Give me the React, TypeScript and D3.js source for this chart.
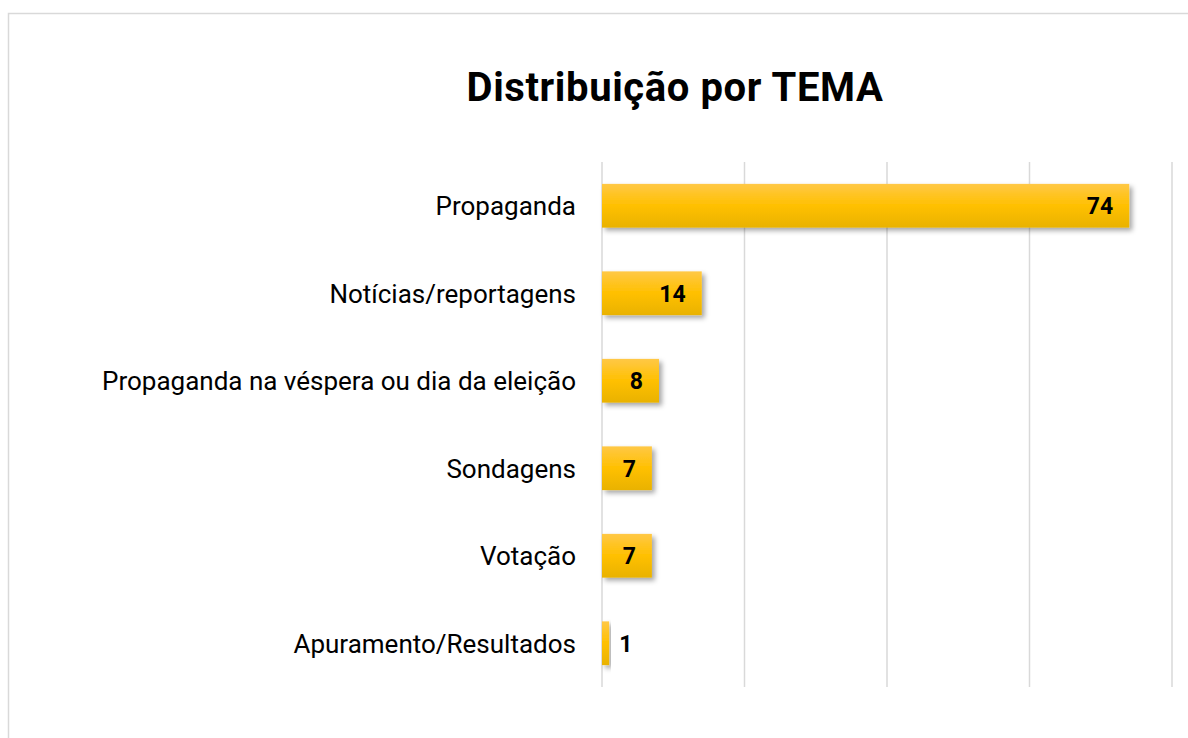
import React from 'react';
import * as d3 from 'd3';

const categories = [
  'Propaganda',
  'Notícias/reportagens',
  'Propaganda na véspera ou dia da eleição',
  'Sondagens',
  'Votação',
  'Apuramento/Resultados',
];
const values = [74, 14, 8, 7, 7, 1];
const gridTicks = [0, 20, 40, 60, 80];
const title = 'Distribuição por TEMA';

const W = 1188;
const H = 738;
const FONT = 'Roboto, "Liberation Sans", sans-serif';

export default function App() {
  const x = d3.scaleLinear().domain([0, 80]).range([602, 1172]);
  const y = d3.scaleBand<string>().domain(categories).range([162, 687]).paddingInner(0.5).paddingOuter(0.25);
  const bh = y.bandwidth();

  return (
    <svg width={W} height={H} style={{ position: 'absolute', left: 0, top: 0, background: '#fff' }}>
      <defs>
        <linearGradient id="barGrad" x1="0" y1="0" x2="0" y2="1">
          <stop offset="0" stopColor="#ffc846" />
          <stop offset="0.5" stopColor="#ffc000" />
          <stop offset="1" stopColor="#e9b200" />
        </linearGradient>
        <filter id="shadow" x="-10%" y="-30%" width="130%" height="180%">
          <feDropShadow dx="3" dy="3" stdDeviation="2.5" floodColor="#000" floodOpacity="0.35" />
        </filter>
      </defs>
      <rect x={8.5} y={13.5} width={W} height={H} fill="#fff" stroke="#d9d9d9" strokeWidth={1.5} />
      <text x={675} y={101} textAnchor="middle" fontFamily={FONT} fontWeight="bold" fontSize={40} letterSpacing={0.6} fill="#000">
        {title}
      </text>
      {gridTicks.map((t) => (
        <line key={t} x1={x(t)} x2={x(t)} y1={162} y2={687} stroke="#d9d9d9" strokeWidth={1.5} />
      ))}
      {categories.map((c, i) => {
        const v = values[i];
        const y0 = y(c)!;
        const end = x(v);
        const inside = end - x(0) > 40;
        return (
          <g key={c}>
            <rect x={x(0)} y={y0} width={end - x(0)} height={bh} fill="url(#barGrad)" filter="url(#shadow)" />
            <text x={576} y={y0 + bh / 2} dy="0.36em" textAnchor="end" fontFamily={FONT} fontSize={26} fill="#000">
              {c}
            </text>
            <text
              x={inside ? end - 16 : end + 10}
              y={y0 + bh / 2}
              dy="0.36em"
              textAnchor={inside ? 'end' : 'start'}
              fontFamily={FONT}
              fontWeight="bold"
              fontSize={23}
              fill="#000"
            >
              {v}
            </text>
          </g>
        );
      })}
    </svg>
  );
}
